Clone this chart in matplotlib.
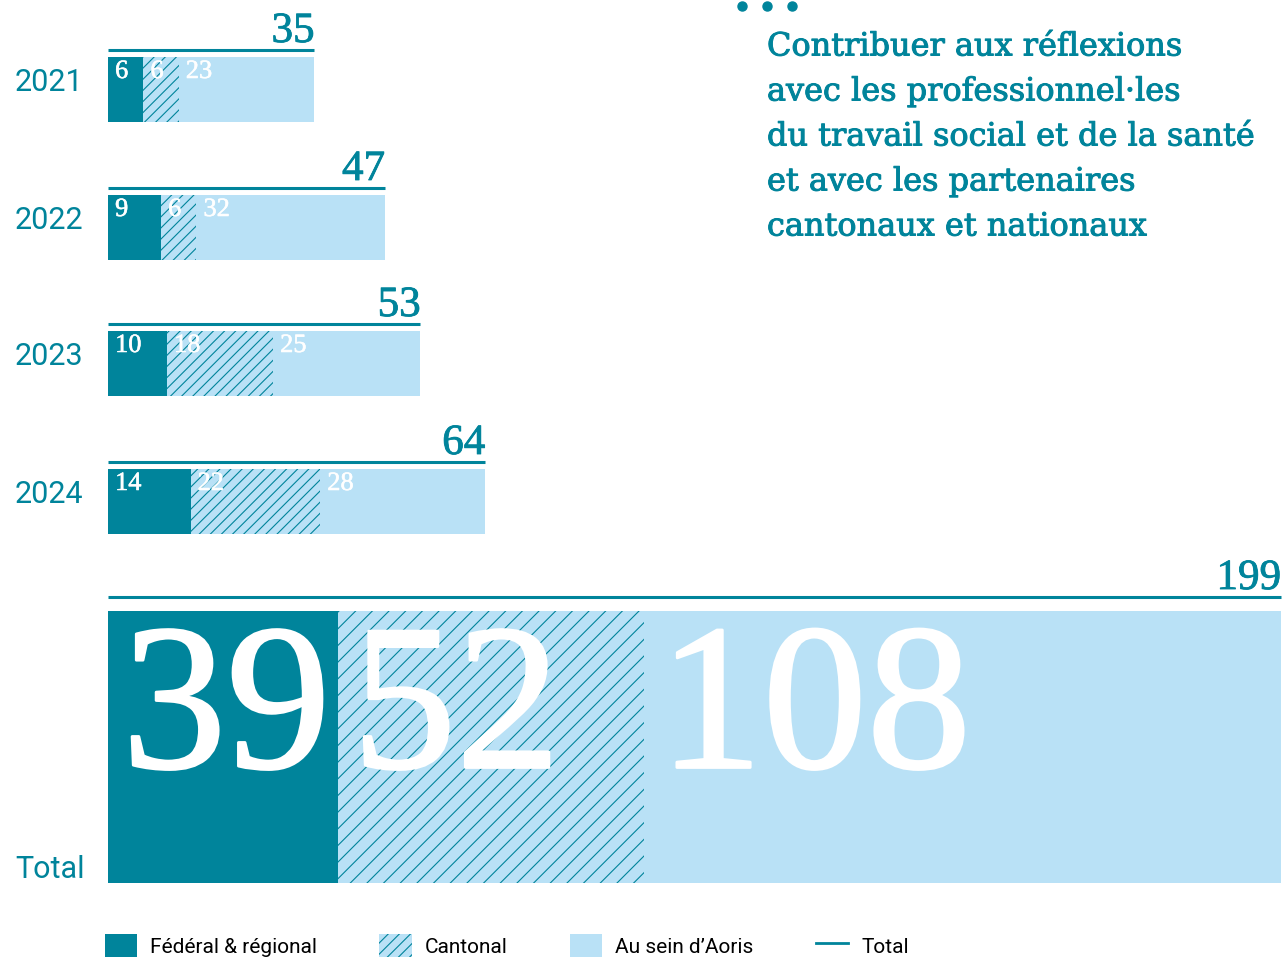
import matplotlib
matplotlib.use("Agg")
import matplotlib.pyplot as plt
import matplotlib.patheffects as pe
from matplotlib.patches import Patch
from matplotlib.lines import Line2D

# Data
years = ["2021", "2022", "2023", "2024"]
federal = [6, 9, 10, 14]
cantonal = [6, 6, 18, 22]
aoris = [23, 32, 25, 28]
total_federal = 39
total_cantonal = 52
total_aoris = 108

title_lines = ["Contribuer aux réflexions",
               "avec les professionnel·les",
               "du travail social et de la santé",
               "et avec les partenaires",
               "cantonaux et nationaux"]
legend_labels = ["Fédéral & régional", "Cantonal", "Au sein d\u2019Aoris", "Total"]

TEAL = "#00849b"
LIGHT = "#b9e1f6"
SERIF = "Liberation Serif"
SANS = "Roboto"

plt.rcParams["hatch.linewidth"] = 0.8

W, H = 1284, 957
fig = plt.figure(figsize=(W / 100, H / 100), dpi=100)
ax = fig.add_axes([0, 0, 1, 1])

# x in data units, y in pixel rows (inverted)
x0_px = 108
k = (1281 - x0_px) / 199.0
ax.set_xlim(-x0_px / k, (W - x0_px) / k)
ax.set_ylim(H, 0)
ax.axis("off")

bar_tops = [57, 195, 331, 469]
bar_h = 65


def bolder(lw, color):
    return [pe.withStroke(linewidth=lw, foreground=color)]


def draw_row(top, h, vals, hatch, label_size, dx, dy, line_gap, stroke):
    lefts = [0, vals[0], vals[0] + vals[1]]
    yc = top + h / 2
    ax.barh(yc, vals[0], left=lefts[0], height=h, color=TEAL, linewidth=0)
    ax.barh(yc, vals[1], left=lefts[1], height=h, color=LIGHT,
            edgecolor=TEAL, hatch=hatch, linewidth=0)
    ax.barh(yc, vals[2], left=lefts[2], height=h, color=LIGHT, linewidth=0)
    for left, v in zip(lefts, vals):
        ax.text(left + dx, top + dy, str(v), color="white", family=SERIF,
                fontsize=label_size, ha="left", va="top",
                path_effects=bolder(stroke, "white"))
    tot = sum(vals)
    ly = top - line_gap
    ax.plot([0, tot], [ly, ly], color=TEAL, lw=2.2, solid_capstyle="butt")
    return tot, ly


for yr, f, c, a, top in zip(years, federal, cantonal, aoris, bar_tops):
    tot, ly = draw_row(top, bar_h, [f, c, a], "///", 19, 1.2, 4, 7, 0.4)
    ax.text(tot, ly + 1, str(tot), color=TEAL, family=SERIF, fontsize=31,
            ha="right", va="bottom", path_effects=bolder(0.6, TEAL))
    ax.text(-93 / k, top + bar_h / 2 - 7, yr, color=TEAL, family=SANS,
            fontsize=22, ha="left", va="center")

# Total row
tot_top, tot_h = 611, 272
tot, ly = draw_row(tot_top, tot_h, [total_federal, total_cantonal, total_aoris],
                   "//", 150, 2.4, 12, 14, 2)
ax.text(tot, ly + 1, str(tot), color=TEAL, family=SERIF, fontsize=31,
        ha="right", va="bottom", path_effects=bolder(0.6, TEAL))
ax.text(-93 / k, 870, "Total", color=TEAL, family=SANS, fontsize=22,
        ha="left", va="center")

# Title block
fig.add_artist(Line2D([742 / W, 767 / W, 792 / W], [1 - 6 / H] * 3, marker="o",
                      ls="none", ms=6.5, color=TEAL, transform=fig.transFigure))
for i, line in enumerate(title_lines):
    fig.text(767 / W, 1 - (47 + 45 * i) / H, line, color=TEAL, family="DejaVu Serif",
             fontsize=23, ha="left", va="center", path_effects=bolder(0.7, TEAL))

# Legend
handles = [Patch(facecolor=TEAL, linewidth=0),
           Patch(facecolor=LIGHT, edgecolor=TEAL, hatch="///", linewidth=0),
           Patch(facecolor=LIGHT, linewidth=0),
           Line2D([], [], color=TEAL, lw=2)]
fig.legend(handles, legend_labels, loc="lower left", bbox_to_anchor=(86 / W, -20 / H),
           ncol=4, frameon=False, prop={"family": SANS, "size": 15},
           handlelength=1.54, handleheight=1.45, columnspacing=3.0, handletextpad=0.63)

fig.savefig("out.png", dpi=100)
